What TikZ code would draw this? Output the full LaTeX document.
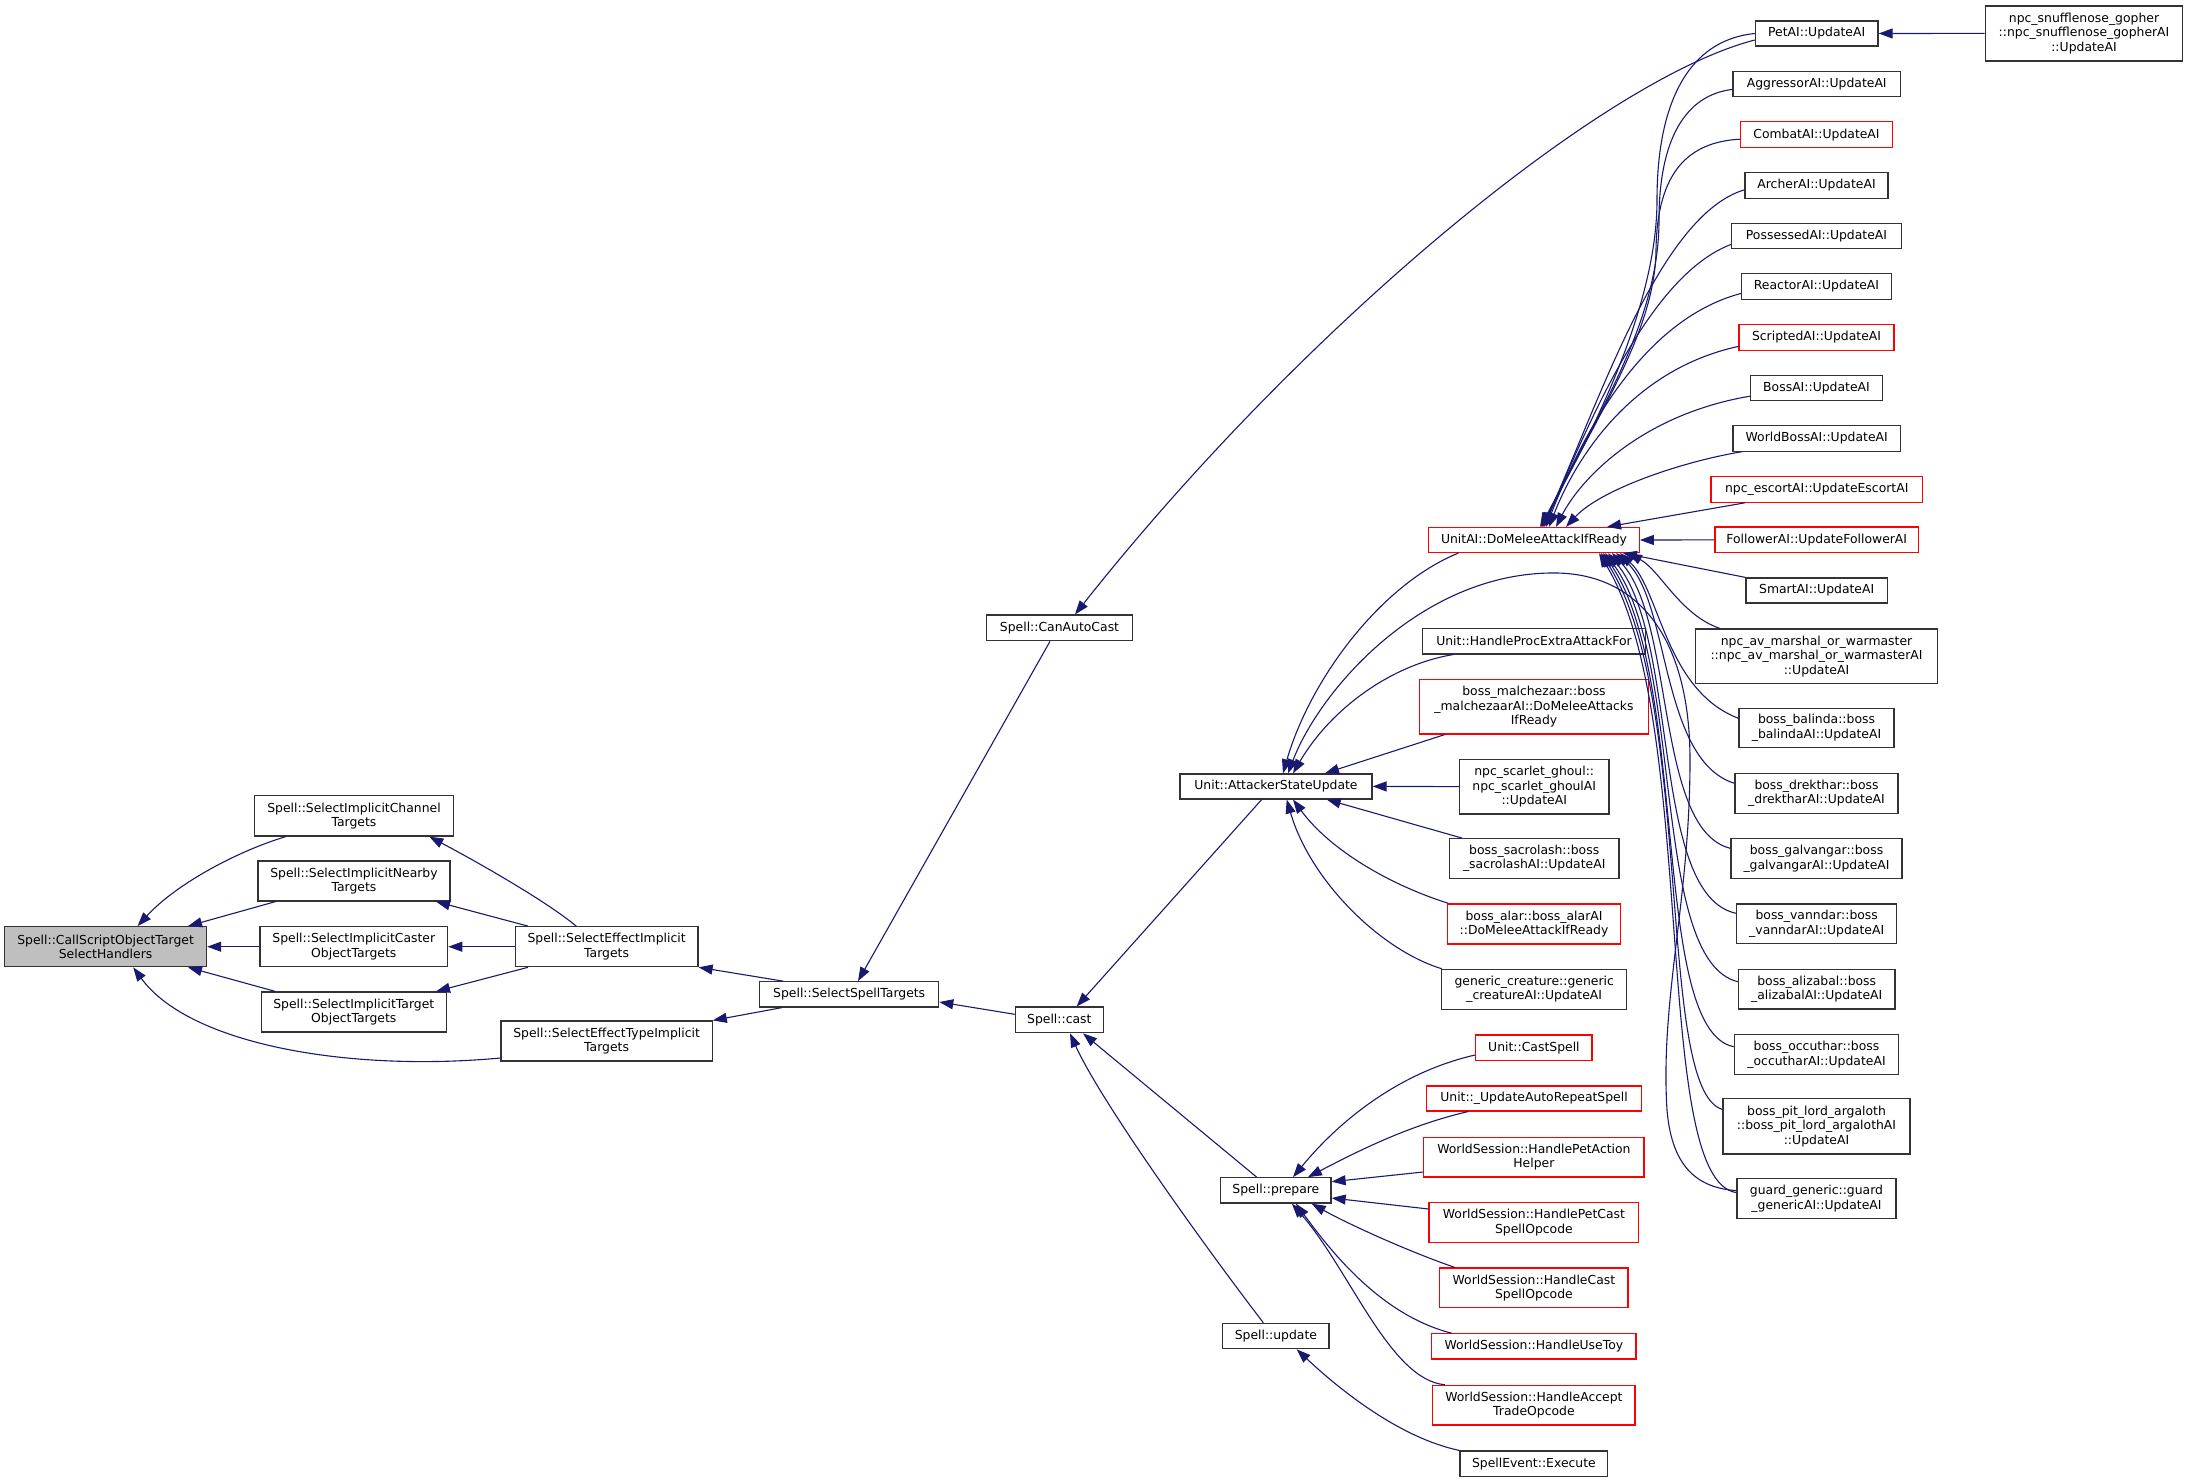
\documentclass[tikz,border=0pt]{standalone}
\usepackage{fontspec}
\newfontfamily\dv{DejaVu Sans}
\usetikzlibrary{arrows.meta}
\definecolor{edgec}{HTML}{191970}
\definecolor{boxgray}{HTML}{BFBFBF}
\definecolor{boxline}{HTML}{333333}
\definecolor{redb}{HTML}{FF0000}
\begin{document}
\begin{tikzpicture}[x=1pt,y=-1pt,
  box/.style={draw=boxline, line width=1.2pt, fill=white, inner sep=0pt, align=center,
    font=\dv\fontsize{12.4}{14.6}\selectfont},
  rbox/.style={box, draw=redb},
  gbox/.style={box, fill=boxgray},
  e/.style={draw=edgec, line width=1.1pt, {Triangle[length=14pt,width=10pt]}-}]
\fill[white] (0,0) rectangle (2188,1483);
\useasboundingbox (0,0) rectangle (2188,1483);
% ---------------- nodes ----------------
\node[gbox, minimum width=202pt, minimum height=40pt] (cs) at (105.6,946.7) {Spell::CallScriptObjectTarget\\SelectHandlers};
\node[box, minimum width=198.4pt, minimum height=40.3pt] (ch) at (354,815.9) {Spell::SelectImplicitChannel\\Targets};
\node[box, minimum width=192pt, minimum height=40pt] (nb) at (354,881) {Spell::SelectImplicitNearby\\Targets};
\node[box, minimum width=187.8pt, minimum height=40pt] (ca) at (353.8,946.7) {Spell::SelectImplicitCaster\\ObjectTargets};
\node[box, minimum width=185pt, minimum height=40pt] (tob) at (353.8,1012) {Spell::SelectImplicitTarget\\ObjectTargets};
\node[box, minimum width=182.8pt, minimum height=40pt] (sei) at (606.6,946.7) {Spell::SelectEffectImplicit\\Targets};
\node[box, minimum width=211.2pt, minimum height=40pt] (seti) at (606.6,1041) {Spell::SelectEffectTypeImplicit\\Targets};
\node[box, minimum width=179pt, minimum height=25.3pt] (sst) at (849.2,994.4) {Spell::SelectSpellTargets};
\node[box, minimum width=145.6pt, minimum height=25.7pt] (cac) at (1059.5,627.9) {Spell::CanAutoCast};
\node[box, minimum width=88pt, minimum height=25.7pt] (cast) at (1059.3,1019.9) {Spell::cast};
\node[box, minimum width=192pt, minimum height=25pt] (asu) at (1276,786.4) {Unit::AttackerStateUpdate};
\node[box, minimum width=110.3pt, minimum height=25.3pt] (prep) at (1275.9,1190.4) {Spell::prepare};
\node[box, minimum width=106.3pt, minimum height=25.4pt] (upd) at (1275.9,1336) {Spell::update};
\node[rbox, minimum width=210.6pt, minimum height=25pt] (dma) at (1534,540) {UnitAI::DoMeleeAttackIfReady};
\node[box, minimum width=222.6pt, minimum height=25.3pt] (hpe) at (1534,641.3) {Unit::HandleProcExtraAttackFor};
\node[rbox, minimum width=228.6pt, minimum height=54.6pt] (mal) at (1534,706.6) {boss\_malchezaar::boss\\\_malchezaarAI::DoMeleeAttacks\\IfReady};
\node[box, minimum width=149.7pt, minimum height=54.6pt] (sg) at (1534.2,786.6) {npc\_scarlet\_ghoul::\\npc\_scarlet\_ghoulAI\\::UpdateAI};
\node[box, minimum width=169.7pt, minimum height=39.6pt] (sac) at (1534.2,858.4) {boss\_sacrolash::boss\\\_sacrolashAI::UpdateAI};
\node[rbox, minimum width=172.6pt, minimum height=40pt] (alar) at (1534,923.9) {boss\_alar::boss\_alarAI\\::DoMeleeAttackIfReady};
\node[box, minimum width=185pt, minimum height=40pt] (gc) at (1534.2,989.3) {generic\_creature::generic\\\_creatureAI::UpdateAI};
\node[rbox, minimum width=116.3pt, minimum height=25.7pt] (csp) at (1533.9,1047.9) {Unit::CastSpell};
\node[rbox, minimum width=214.6pt, minimum height=25pt] (uar) at (1534,1098.5) {Unit::\_UpdateAutoRepeatSpell};
\node[rbox, minimum width=220.3pt, minimum height=39.7pt] (pah) at (1533.9,1157.2) {WorldSession::HandlePetAction\\Helper};
\node[rbox, minimum width=209.7pt, minimum height=39.6pt] (pcs) at (1533.9,1222.5) {WorldSession::HandlePetCast\\SpellOpcode};
\node[rbox, minimum width=188.3pt, minimum height=39.7pt] (hcs) at (1533.9,1287.9) {WorldSession::HandleCast\\SpellOpcode};
\node[rbox, minimum width=204.3pt, minimum height=25.3pt] (toy) at (1533.9,1346.4) {WorldSession::HandleUseToy};
\node[rbox, minimum width=202.3pt, minimum height=39.7pt] (trade) at (1533.9,1405.2) {WorldSession::HandleAccept\\TradeOpcode};
\node[box, minimum width=147.7pt, minimum height=25.3pt] (exe) at (1533.9,1463.7) {SpellEvent::Execute};
% right column
\node[box, minimum width=122.7pt, minimum height=25pt] (pet) at (1816.7,33.5) {PetAI::UpdateAI};
\node[box, minimum width=197.4pt, minimum height=55pt] (snuf) at (2084,33.4) {npc\_snufflenose\_gopher\\::npc\_snufflenose\_gopherAI\\::UpdateAI};
\node[box, minimum width=167.3pt, minimum height=25.3pt] (agg) at (1816.7,83.9) {AggressorAI::UpdateAI};
\node[rbox, minimum width=152.4pt, minimum height=25.7pt] (com) at (1816.5,134.7) {CombatAI::UpdateAI};
\node[box, minimum width=143pt, minimum height=25.3pt] (arc) at (1816.5,185.5) {ArcherAI::UpdateAI};
\node[box, minimum width=169.6pt, minimum height=25.3pt] (pos) at (1816.5,236) {PossessedAI::UpdateAI};
\node[box, minimum width=149.6pt, minimum height=25.7pt] (rea) at (1816.5,286.5) {ReactorAI::UpdateAI};
\node[rbox, minimum width=155pt, minimum height=25.7pt] (scr) at (1816.5,337.5) {ScriptedAI::UpdateAI};
\node[box, minimum width=132.4pt, minimum height=25.3pt] (bos) at (1816.5,387.9) {BossAI::UpdateAI};
\node[box, minimum width=167.3pt, minimum height=25.3pt] (wb) at (1816.7,438.5) {WorldBossAI::UpdateAI};
\node[rbox, minimum width=211.3pt, minimum height=25.4pt] (esc) at (1816.7,489.5) {npc\_escortAI::UpdateEscortAI};
\node[rbox, minimum width=203.3pt, minimum height=25.8pt] (fol) at (1816.7,539.9) {FollowerAI::UpdateFollowerAI};
\node[box, minimum width=141.3pt, minimum height=25pt] (sma) at (1816.7,590.5) {SmartAI::UpdateAI};
\node[box, minimum width=241.6pt, minimum height=54.3pt] (av) at (1816.5,656.2) {npc\_av\_marshal\_or\_warmaster\\::npc\_av\_marshal\_or\_warmasterAI\\::UpdateAI};
\node[box, minimum width=155pt, minimum height=39.6pt] (bal) at (1816.5,728) {boss\_balinda::boss\\\_balindaAI::UpdateAI};
\node[box, minimum width=163pt, minimum height=39.6pt] (dre) at (1816.5,793.3) {boss\_drekthar::boss\\\_drektharAI::UpdateAI};
\node[box, minimum width=171pt, minimum height=40pt] (gal) at (1816.5,858.8) {boss\_galvangar::boss\\\_galvangarAI::UpdateAI};
\node[box, minimum width=160pt, minimum height=39.7pt] (van) at (1816.7,923.9) {boss\_vanndar::boss\\\_vanndarAI::UpdateAI};
\node[box, minimum width=156.7pt, minimum height=39.6pt] (ali) at (1816.7,989.2) {boss\_alizabal::boss\\\_alizabalAI::UpdateAI};
\node[box, minimum width=164.4pt, minimum height=39.6pt] (occ) at (1816.5,1054.5) {boss\_occuthar::boss\\\_occutharAI::UpdateAI};
\node[box, minimum width=187pt, minimum height=55.1pt] (pit) at (1816.5,1126.4) {boss\_pit\_lord\_argaloth\\::boss\_pit\_lord\_argalothAI\\::UpdateAI};
\node[box, minimum width=159pt, minimum height=39.6pt] (gua) at (1816.5,1198.6) {guard\_generic::guard\\\_genericAI::UpdateAI};
% ---------------- edges ----------------
% left part
\draw[e] ([xshift=32pt]cs.north) .. controls (175,885) and (235,852) .. ([xshift=-68.4pt]ch.south);
\draw[e] ([xshift=82.4pt]cs.north) -- ([xshift=-78.5pt]nb.south);
\draw[e] (cs.east) -- (ca.west);
\draw[e] ([xshift=82.4pt]cs.south) -- ([xshift=-78.5pt]tob.north);
\draw[e] ([xshift=27.6pt]cs.south) .. controls (190,1045) and (350,1072) .. ([yshift=-17pt]seti.west);
\draw[e] ([xshift=75.3pt]ch.south) .. controls (470,858) and (545,900) .. ([xshift=-30.4pt]sei.north);
\draw[e] ([xshift=82pt]nb.south) -- ([xshift=-78.6pt]sei.north);
\draw[e] (ca.east) -- (sei.west);
\draw[e] ([xshift=82.2pt]tob.north) -- ([xshift=-78.6pt]sei.south);
\draw[e] (sei.south east) -- ([xshift=-66pt]sst.north);
\draw[e] (seti.north east) -- ([xshift=-67.5pt]sst.south);
\draw[e] ([xshift=8.8pt]sst.north) -- ([xshift=-9.5pt]cac.south);
\draw[e] ([yshift=-7.6pt]sst.east) -- ([yshift=5.6pt]cast.west);
\draw[e] ([xshift=15.5pt]cac.north) .. controls (1300,330) and (1600,80) .. ([yshift=-6.5pt]pet.west);
\draw[e] ([xshift=17.4pt]cast.north) -- ([xshift=-14.3pt]asu.south);
\draw[e] ([xshift=23.7pt]cast.south) -- ([xshift=-19.2pt]prep.north);
\draw[e] ([xshift=10.7pt]cast.south) .. controls (1100,1100) and (1200,1240) .. ([xshift=-12.6pt]upd.north);
% prepare
\draw[e] ([xshift=17.1pt]prep.north) .. controls (1340,1120) and (1400,1072) .. ([yshift=-7.1pt]csp.west);
\draw[e] ([xshift=32pt]prep.north) .. controls (1360,1150) and (1410,1125) .. ([xshift=-66pt]uar.south);
\draw[e] ([yshift=8.7pt]prep.east) -- ([yshift=-14.8pt]pah.west);
\draw[e] ([yshift=-7.6pt]prep.east) -- ([yshift=13.5pt]pcs.west);
\draw[e] ([xshift=35.8pt]prep.south) .. controls (1350,1225) and (1410,1252) .. ([xshift=-79pt]hcs.north);
\draw[e] ([xshift=20pt]prep.south) .. controls (1330,1250) and (1380,1315) .. ([xshift=-82.3pt]toy.north);
\draw[e] ([xshift=16pt]prep.south) .. controls (1350,1270) and (1390,1380) .. ([xshift=-89pt]trade.north);
\draw[e] ([xshift=20.8pt]upd.south) .. controls (1340,1390) and (1400,1438) .. (exe.north west);
% attacker state update
\draw[e] ([xshift=7pt]asu.north) .. controls (1310,680) and (1380,585) .. ([xshift=-75.7pt]dma.south);
\draw[e] ([xshift=12pt]asu.north) .. controls (1320,690) and (1420,575) .. (1550,573)
   .. controls (1640,571) and (1690,640) .. (1690,760)
   .. controls (1690,900) and (1660,1000) .. (1667,1110)
   .. controls (1672,1170) and (1700,1188) .. ([yshift=8pt]gua.west);
\draw[e] ([xshift=17pt]asu.north) .. controls (1330,710) and (1390,665) .. ([xshift=-80.7pt]hpe.south);
\draw[e] ([xshift=49pt]asu.north) -- ([xshift=-89pt]mal.south);
\draw[e] (asu.east) -- (sg.west);
\draw[e] ([xshift=50.7pt]asu.south) -- ([xshift=-72.5pt]sac.north);
\draw[e] ([xshift=17pt]asu.south) .. controls (1330,850) and (1390,885) .. ([xshift=-85.7pt]alar.north);
\draw[e] ([xshift=10.7pt]asu.south) .. controls (1310,880) and (1380,950) .. ([xshift=-92.5pt]gc.north);
% PetAI
\draw[e] (pet.east) -- (snuf.west);
% into DoMeleeAttackIfReady from above
\draw[e] ([xshift=6pt]dma.north) .. controls (1600,420) and (1657,300) .. (1657,200)
   .. controls (1657,100) and (1690,40) .. (pet.west);
\draw[e] ([xshift=7pt]dma.north) .. controls (1600,410) and (1659,320) .. (1659,220)
   .. controls (1659,140) and (1685,95) .. ([yshift=-5.5pt]agg.west);
\draw[e] ([xshift=8pt]dma.north) .. controls (1600,410) and (1655,330) .. (1656,250)
   .. controls (1657,170) and (1690,142) .. ([yshift=-4.5pt]com.west);
\draw[e] ([xshift=9pt]dma.north) .. controls (1600,400) and (1660,215) .. ([yshift=-4.3pt]arc.west);
\draw[e] ([xshift=10pt]dma.north) .. controls (1590,420) and (1650,275) .. ([yshift=-8.4pt]pos.west);
\draw[e] ([xshift=12pt]dma.north) .. controls (1580,440) and (1640,320) .. ([yshift=-6.9pt]rea.west);
\draw[e] ([xshift=15pt]dma.north) .. controls (1575,460) and (1630,370) .. ([yshift=-8.9pt]scr.west);
\draw[e] ([xshift=22pt]dma.north) .. controls (1580,480) and (1640,415) .. ([yshift=-8.3pt]bos.west);
\draw[e] ([xshift=32pt]dma.north) .. controls (1600,490) and (1680,462) .. ([xshift=-75pt]wb.south);
\draw[e] ([xshift=73pt]dma.north) -- ([xshift=-71.7pt]esc.south);
\draw[e] (dma.east) -- (fol.west);
\draw[e] ([xshift=-17pt]dma.south east) -- (sma.north west);
% into DoMeleeAttackIfReady from below
\draw[e] ([xshift=94pt]dma.south) .. controls (1660,570) and (1680,615) .. ([xshift=-96.5pt]av.north);
\draw[e] ([xshift=86pt]dma.south) .. controls (1660,590) and (1665,690) .. ([yshift=9.7pt]bal.west);
\draw[e] ([xshift=82pt]dma.south) .. controls (1670,600) and (1660,760) .. ([yshift=10pt]dre.west);
\draw[e] ([xshift=78pt]dma.south) .. controls (1675,620) and (1655,830) .. ([yshift=10.5pt]gal.west);
\draw[e] ([xshift=74pt]dma.south) .. controls (1680,640) and (1650,895) .. ([yshift=10.6pt]van.west);
\draw[e] ([xshift=71pt]dma.south) .. controls (1685,660) and (1650,960) .. ([yshift=7.5pt]ali.west);
\draw[e] ([xshift=69pt]dma.south) .. controls (1690,680) and (1650,1030) .. ([yshift=7.8pt]occ.west);
\draw[e] ([xshift=67pt]dma.south) .. controls (1695,700) and (1655,1090) .. ([yshift=17pt]pit.west);
\draw[e] ([xshift=65pt]dma.south) .. controls (1700,720) and (1650,1180) .. ([yshift=6pt]gua.west);
\end{tikzpicture}
\end{document}
